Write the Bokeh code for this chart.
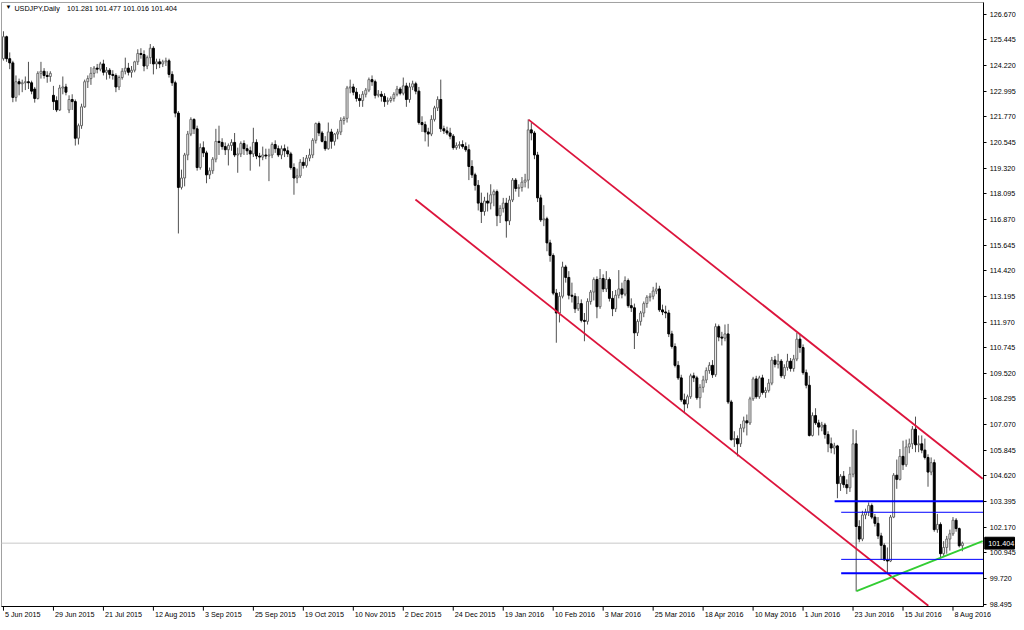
import pandas as pd
from bokeh.plotting import figure
from bokeh.models import Range1d, FixedTicker, LinearAxis, Label, NumeralTickFormatter
from bokeh.embed import file_html
from bokeh.resources import INLINE

# ---------------- data ----------------
symbol = "USDJPY,Daily"
last_ohlc = "101.281 101.477 101.016 101.404"
last_price = 101.404
first_date, last_date = "2015-06-05", "2016-08-11"
holidays = ["2015-12-25", "2016-01-01"]

opens = [
    124.55, 125.60, 124.55, 124.35, 122.70, 123.45, 123.35, 123.40, 123.45, 123.40,
    123.10, 122.65, 123.85, 123.95, 123.75, 123.70, 122.80, 122.55, 122.10, 123.15,
    123.20, 122.10, 122.60, 122.50, 120.75, 121.35, 122.25, 123.45, 123.60, 123.85,
    124.10, 124.05, 124.30, 123.90, 124.00, 123.80, 123.75, 123.20, 123.65, 123.95,
    124.10, 123.90, 124.00, 124.40, 124.80, 124.75, 124.20, 124.60, 125.05, 124.30,
    124.40, 124.30, 124.40, 124.45, 123.80, 123.40, 121.95, 118.40, 118.85, 119.95,
    120.95, 121.65, 121.20, 119.35, 120.30, 120.05, 119.00, 119.20, 119.75, 120.60,
    120.55, 120.35, 120.20, 120.40, 120.55, 119.95, 120.00, 120.50, 120.25, 120.15,
    120.00, 120.55, 119.90, 119.85, 119.95, 119.90, 119.95, 120.45, 120.25, 119.95,
    120.25, 120.15, 120.00, 119.35, 118.85, 118.95, 119.60, 119.45, 119.80, 119.95,
    120.65, 121.45, 121.00, 120.60, 120.25, 121.05, 120.60, 120.95, 121.05, 121.60,
    121.70, 123.15, 123.20, 122.95, 122.65, 122.55, 122.85, 123.05, 123.55, 123.45,
    122.80, 122.85, 122.75, 122.50, 122.55, 122.65, 122.85, 123.10, 122.90, 123.25,
    122.60, 123.20, 123.35, 123.00, 121.50, 121.40, 121.05, 120.95, 121.65, 122.20,
    122.60, 121.20, 121.10, 121.00, 120.85, 120.30, 120.40, 120.45, 120.35, 120.20,
    119.40, 119.00, 118.50, 117.65, 117.25, 117.75, 117.65, 118.05, 118.20, 117.05,
    117.40, 117.65, 116.80, 117.80, 118.75, 118.35, 118.40, 118.65, 118.75, 121.15,
    121.00, 119.95, 117.90, 116.85, 116.90, 115.75, 115.15, 113.35, 112.40, 113.20,
    114.60, 114.10, 113.25, 113.20, 112.60, 112.85, 112.05, 112.00, 112.95, 113.40,
    114.00, 112.70, 114.05, 113.55, 114.00, 113.10, 112.60, 113.25, 113.55, 113.30,
    113.95, 112.75, 112.65, 111.45, 112.00, 112.40, 112.85, 113.15, 113.20, 113.45,
    113.55, 112.55, 112.45, 112.40, 111.40, 110.80, 109.90, 109.30, 108.25, 108.05,
    108.40, 109.40, 109.30, 108.35, 108.85, 109.20, 109.65, 109.90, 109.45, 111.75,
    111.25, 111.20, 111.40, 108.15, 106.35, 106.40, 106.15, 106.90, 107.25, 107.15,
    108.30, 109.25, 108.40, 109.30, 108.60, 108.70, 109.05, 110.15, 109.95, 110.10,
    109.40, 109.80, 110.10, 109.75, 110.20, 111.15, 110.75, 109.55, 108.95, 106.55,
    107.50, 107.15, 106.95, 107.05, 106.60, 106.15, 105.95, 106.05, 104.25, 104.60,
    104.20, 104.05, 104.70, 106.15, 102.20, 101.60, 102.75, 102.90, 103.20, 102.65,
    102.35, 101.75, 101.30, 100.60, 100.55, 102.65, 104.65, 104.45, 105.55, 105.15,
    106.00, 106.15, 106.85, 106.10, 106.15, 105.85, 105.50, 104.80, 105.25, 102.05,
    102.30, 100.90, 101.20, 101.60, 101.85, 102.50, 102.10, 101.281,
]
highs = [
    125.86, 125.65, 124.85, 124.45, 123.75, 123.60, 123.55, 123.70, 124.40, 123.50,
    123.20, 123.95, 124.40, 124.10, 123.95, 123.95, 123.25, 122.75, 123.30, 123.70,
    123.35, 122.80, 122.85, 122.60, 121.45, 122.40, 123.55, 123.75, 124.15, 124.20,
    124.30, 124.40, 124.50, 124.15, 124.10, 124.00, 123.85, 123.75, 124.10, 124.60,
    124.35, 124.20, 124.45, 125.00, 125.05, 124.95, 124.70, 125.25, 125.15, 124.55,
    124.55, 124.50, 124.60, 124.55, 123.95, 123.50, 122.05, 119.25, 120.05, 121.10,
    121.75, 121.70, 121.35, 120.50, 120.60, 120.15, 119.35, 119.85, 121.20, 121.35,
    120.75, 120.55, 120.50, 120.70, 121.00, 120.30, 120.60, 120.65, 120.45, 120.35,
    121.25, 120.70, 120.05, 120.35, 120.25, 120.25, 120.55, 120.65, 120.40, 120.40,
    120.45, 120.35, 120.10, 119.55, 119.30, 119.75, 119.85, 119.95, 120.25, 120.75,
    121.50, 121.55, 121.10, 120.85, 121.50, 121.20, 121.00, 121.20, 121.75, 121.80,
    123.25, 123.55, 123.35, 123.15, 122.85, 123.00, 123.15, 123.65, 123.75, 123.55,
    123.05, 123.00, 122.90, 122.70, 122.75, 122.95, 123.25, 123.20, 123.65, 123.40,
    123.40, 123.50, 123.45, 123.20, 121.80, 121.55, 121.25, 121.85, 122.30, 122.75,
    123.55, 121.35, 121.30, 121.25, 120.95, 120.55, 120.60, 120.65, 120.55, 120.45,
    119.70, 119.10, 118.75, 118.15, 117.95, 118.15, 118.55, 118.30, 118.30, 117.55,
    117.90, 117.90, 118.00, 118.85, 118.85, 118.55, 118.90, 119.05, 121.65, 121.50,
    121.10, 120.10, 118.05, 117.55, 117.00, 115.90, 115.25, 113.55, 113.40, 114.85,
    114.70, 114.40, 113.85, 113.35, 113.20, 113.05, 112.40, 113.10, 113.50, 114.10,
    114.15, 114.50, 114.25, 114.40, 114.10, 113.45, 113.50, 114.45, 113.85, 114.15,
    114.05, 113.10, 112.85, 112.10, 112.50, 112.95, 113.25, 113.35, 113.65, 113.85,
    113.70, 112.80, 112.75, 112.55, 111.55, 110.95, 110.10, 109.45, 108.55, 108.50,
    109.50, 109.55, 109.40, 109.00, 109.40, 109.80, 110.05, 110.15, 111.90, 111.85,
    111.50, 111.85, 111.88, 108.25, 106.75, 106.55, 107.10, 107.45, 107.55, 108.40,
    109.35, 109.40, 109.40, 109.45, 108.85, 109.25, 110.30, 110.35, 110.45, 110.20,
    109.95, 110.45, 110.25, 110.40, 111.45, 111.40, 110.90, 109.70, 109.40, 107.65,
    107.85, 107.30, 107.20, 107.15, 106.75, 106.45, 106.20, 106.10, 104.70, 104.85,
    104.45, 105.05, 106.85, 106.80, 102.50, 102.95, 103.05, 103.35, 103.30, 102.80,
    102.65, 101.90, 101.40, 101.20, 102.75, 104.75, 105.40, 105.90, 106.30, 106.35,
    106.40, 107.00, 107.45, 106.55, 106.55, 106.40, 105.65, 105.50, 105.40, 102.80,
    102.40, 101.50, 101.75, 102.05, 102.65, 102.60, 102.15, 101.477,
]
lows = [
    124.46, 124.40, 124.05, 122.47, 122.50, 122.80, 122.95, 123.05, 123.10, 122.85,
    122.45, 122.60, 123.60, 123.60, 123.40, 123.45, 122.10, 122.00, 122.05, 122.85,
    122.80, 121.95, 122.10, 120.40, 120.45, 121.20, 122.20, 123.15, 123.30, 123.65,
    123.85, 123.95, 123.75, 123.55, 123.60, 123.55, 122.95, 123.05, 123.55, 123.80,
    123.75, 123.65, 123.90, 124.25, 124.55, 123.95, 124.05, 124.30, 123.80, 124.05,
    124.10, 124.15, 124.20, 123.65, 123.25, 121.75, 116.20, 118.30, 118.45, 119.70,
    120.85, 120.95, 119.20, 119.25, 119.85, 118.60, 118.80, 119.05, 119.60, 119.95,
    120.20, 119.95, 119.45, 120.15, 119.85, 119.10, 119.85, 119.95, 119.95, 119.20,
    119.85, 119.75, 119.40, 119.70, 119.75, 118.70, 119.80, 120.05, 119.85, 119.75,
    119.85, 119.85, 119.25, 118.05, 118.60, 118.85, 119.30, 119.35, 119.65, 119.80,
    120.50, 120.85, 120.55, 120.15, 120.20, 120.25, 120.40, 120.70, 120.90, 121.40,
    121.50, 122.90, 122.80, 122.50, 122.25, 122.25, 122.70, 122.95, 123.25, 122.65,
    122.70, 122.50, 122.25, 122.35, 122.45, 122.50, 122.75, 122.80, 122.80, 122.25,
    122.45, 123.05, 122.85, 121.40, 121.05, 120.60, 120.35, 120.85, 121.55, 122.05,
    121.05, 120.95, 120.90, 120.70, 120.20, 120.20, 120.25, 120.25, 120.10, 118.75,
    118.85, 118.25, 117.30, 116.70, 117.05, 117.25, 117.35, 117.50, 116.55, 116.70,
    117.20, 116.00, 116.60, 117.70, 118.20, 117.95, 118.20, 118.40, 118.35, 120.65,
    119.75, 117.70, 116.75, 116.55, 115.35, 114.85, 113.25, 110.98, 111.95, 113.10,
    113.85, 113.05, 112.90, 112.40, 112.50, 111.95, 111.05, 111.85, 112.80, 113.00,
    112.15, 112.60, 113.40, 113.40, 112.95, 112.25, 112.45, 113.10, 113.10, 113.20,
    112.65, 112.45, 110.68, 111.30, 111.80, 112.20, 112.65, 112.95, 113.05, 113.30,
    112.45, 112.30, 112.15, 111.25, 110.70, 109.80, 109.20, 108.15, 107.65, 107.85,
    108.30, 109.10, 108.25, 107.85, 108.60, 109.05, 109.50, 109.30, 109.35, 111.05,
    110.85, 111.05, 108.05, 106.30, 106.00, 105.55, 106.00, 106.70, 106.55, 107.05,
    108.20, 108.30, 108.30, 108.50, 108.35, 108.60, 108.95, 109.80, 109.75, 109.30,
    109.25, 109.65, 109.60, 109.60, 110.10, 110.50, 109.45, 108.80, 106.50, 106.50,
    107.05, 106.55, 106.75, 106.40, 105.75, 105.70, 105.65, 103.55, 103.90, 104.05,
    103.75, 103.85, 104.55, 99.10, 101.45, 101.50, 102.55, 102.70, 102.55, 102.20,
    101.60, 100.60, 100.55, 99.97, 100.50, 102.60, 104.00, 104.40, 104.90, 105.05,
    105.70, 105.90, 105.75, 105.75, 105.70, 105.40, 104.10, 104.65, 101.95, 101.90,
    100.68, 100.80, 100.90, 101.05, 101.75, 101.95, 101.20, 101.016,
]
closes = [
    125.60, 124.55, 124.35, 122.70, 123.45, 123.35, 123.40, 123.45, 123.40, 123.00,
    122.65, 123.85, 123.95, 123.75, 123.70, 123.85, 122.50, 122.10, 123.15, 123.20,
    122.95, 122.60, 122.50, 120.75, 121.35, 122.25, 123.45, 123.60, 123.85, 124.10,
    124.05, 124.30, 123.90, 124.00, 123.80, 123.75, 123.20, 123.65, 123.95, 124.10,
    123.90, 124.00, 124.40, 124.80, 124.75, 124.20, 124.60, 125.05, 124.30, 124.40,
    124.30, 124.40, 124.45, 123.80, 123.40, 121.95, 118.40, 118.85, 119.95, 120.95,
    121.65, 121.20, 119.35, 120.30, 120.05, 119.00, 119.20, 119.75, 120.60, 120.55,
    120.35, 120.20, 120.40, 120.55, 119.95, 120.00, 120.50, 120.25, 120.15, 120.00,
    120.55, 119.90, 119.85, 119.95, 119.90, 119.95, 120.45, 120.25, 119.95, 120.25,
    120.15, 120.00, 119.35, 118.85, 118.95, 119.60, 119.45, 119.80, 119.95, 120.65,
    121.45, 121.00, 120.60, 120.25, 121.05, 120.60, 120.95, 121.05, 121.60, 121.70,
    123.15, 123.20, 122.95, 122.65, 122.55, 122.85, 123.05, 123.55, 123.45, 122.80,
    122.85, 122.75, 122.50, 122.55, 122.65, 122.85, 123.10, 122.90, 123.25, 122.60,
    123.20, 123.35, 123.00, 121.50, 121.40, 121.05, 120.95, 121.65, 122.20, 122.60,
    121.20, 121.10, 121.00, 120.85, 120.30, 120.40, 120.45, 120.35, 120.20, 119.40,
    119.00, 118.50, 117.65, 117.25, 117.75, 117.65, 118.05, 118.20, 117.05, 117.40,
    117.65, 116.80, 117.80, 118.75, 118.35, 118.40, 118.65, 118.75, 121.15, 121.00,
    119.95, 117.90, 116.85, 116.90, 115.75, 115.15, 113.35, 112.40, 113.20, 114.60,
    114.10, 113.25, 113.20, 112.60, 112.85, 112.05, 112.00, 112.95, 113.40, 114.00,
    112.70, 114.05, 113.55, 114.00, 113.10, 112.60, 113.25, 113.55, 113.30, 113.95,
    112.75, 112.65, 111.45, 112.00, 112.40, 112.85, 113.15, 113.20, 113.45, 113.55,
    112.55, 112.45, 112.40, 111.40, 110.80, 109.90, 109.30, 108.25, 108.05, 108.40,
    109.40, 109.30, 108.35, 108.85, 109.20, 109.65, 109.90, 109.45, 111.75, 111.25,
    111.20, 111.40, 108.15, 106.35, 106.40, 106.15, 106.90, 107.25, 107.15, 108.30,
    109.25, 108.40, 109.30, 108.60, 108.70, 109.05, 110.15, 109.95, 110.10, 109.40,
    109.80, 110.10, 109.75, 110.20, 111.15, 110.75, 109.55, 108.95, 106.55, 107.50,
    107.15, 106.95, 107.05, 106.60, 106.15, 105.95, 106.05, 104.25, 104.60, 104.20,
    104.05, 104.70, 106.15, 102.20, 101.60, 102.75, 102.90, 103.20, 102.65, 102.35,
    101.75, 101.30, 100.60, 100.55, 102.65, 104.65, 104.45, 105.55, 105.15, 106.00,
    106.15, 106.85, 106.10, 106.15, 105.85, 105.50, 104.80, 105.25, 102.05, 102.30,
    100.90, 101.20, 101.60, 101.85, 102.50, 102.10, 101.28, 101.404,
]

date_tick_labels = [
    "5 Jun 2015", "29 Jun 2015", "21 Jul 2015", "12 Aug 2015", "3 Sep 2015",
    "25 Sep 2015", "19 Oct 2015", "10 Nov 2015", "2 Dec 2015", "24 Dec 2015",
    "19 Jan 2016", "10 Feb 2016", "3 Mar 2016", "25 Mar 2016", "18 Apr 2016",
    "10 May 2016", "1 Jun 2016", "23 Jun 2016", "15 Jul 2016", "8 Aug 2016",
]
price_ticks = [
    126.670, 125.445, 124.220, 122.995, 121.770, 120.545, 119.320, 118.095,
    116.870, 115.645, 114.420, 113.195, 111.970, 110.745, 109.520, 108.295,
    107.070, 105.845, 104.620, 103.395, 102.170, 100.945, 99.720, 98.495,
]

# drawn objects (bar index, price)
upper_channel_idx = [168.1, 313.5]
upper_channel_price = [121.64, 104.48]
lower_channel_idx = [131.9, 296.1]
lower_channel_price = [117.82, 98.41]
support_idx = [273.1, 313.5]
support_price = [99.11, 101.50]
level_price = [103.41, 102.88, 100.63, 99.97]
level_start_idx = [266.1, 268.2, 268.2, 268.2]
level_thick = [True, False, False, True]

# ---------------- layout / style ----------------
FONT = "Liberation Sans"
FSPX = 7.2
FS = f"{FSPX}px"
W, H = 1016, 622
REF_W, REF_H = 1024, 630
BAR_PX, BAR_X0 = 3.148, 3.0        # reference: pixel spacing of bars, x of bar 0
PX_PER_PRICE, Y_REF_PRICE, Y_REF_PX = 21.2, 126.670, 14.0


def ix(xpx):      # reference pixel -> bar-index coordinate
    return (xpx - BAR_X0) / BAR_PX


def py(ypx):      # reference pixel -> price coordinate
    return Y_REF_PRICE - (ypx - Y_REF_PX) / PX_PER_PRICE


X0, X1 = ix(0), ix(REF_W)
Y0, Y1 = py(REF_H), py(0)
X_AX = ix(991)          # price axis line
Y_AX = py(614)          # time axis line
X_LEFT, Y_TOP = ix(1), py(2)
PPX = W / (X1 - X0)     # screen px per bar

dates = [d for d in pd.bdate_range(first_date, last_date)
         if d not in set(pd.to_datetime(holidays))]
dindex = pd.DatetimeIndex(dates)
tick_idx = [int(dindex.searchsorted(pd.Timestamp(s))) for s in date_tick_labels]

n = len(closes)
xs = list(range(n))

p = figure(width=W, height=H, output_backend="svg", toolbar_location=None,
           x_range=Range1d(X0, X1), y_range=Range1d(Y0, Y1),
           x_axis_location=None, y_axis_location=None,
           min_border_left=0, min_border_right=0, min_border_top=0,
           min_border_bottom=0, background_fill_color="white",
           border_fill_color="white")
p.grid.visible = False
p.outline_line_color = None

# chart border (top and left, grey)
p.segment(x0=[X_LEFT, X_LEFT], y0=[Y_TOP, Y_TOP], x1=[X_AX, X_LEFT], y1=[Y_TOP, Y_AX],
          line_color="#a0a0a0", line_width=1)

# price axis (right), fixed at the chart's right edge
yaxis = LinearAxis(ticker=FixedTicker(ticks=price_ticks),
                   formatter=NumeralTickFormatter(format="0.000"),
                   fixed_location=X_AX, bounds=(Y_AX, Y_TOP),
                   axis_line_color="black", major_tick_line_color="black",
                   major_tick_out=3, major_tick_in=0,
                   minor_tick_out=0, minor_tick_in=0, major_label_standoff=3,
                   major_label_text_font=FONT, major_label_text_font_size=FS,
                   major_label_text_color="black")
p.add_layout(yaxis, "right")

# time axis (below): labels left-aligned right of each tick mark
CW = {" ": 0.278, "J": 0.5, "u": 0.556, "n": 0.556, "l": 0.222, "A": 0.667,
      "g": 0.556, "S": 0.667, "e": 0.556, "p": 0.556, "O": 0.778, "c": 0.5,
      "t": 0.278, "N": 0.722, "o": 0.556, "v": 0.5, "D": 0.722, "F": 0.611,
      "b": 0.556, "M": 0.833, "a": 0.556, "r": 0.333, "y": 0.5}


def text_px(s):
    return sum(CW.get(ch, 0.556) for ch in s) * FSPX


label_pos = [round(t + (1.5 + text_px(s) / 2) / PPX, 3) + 0.0004
             for t, s in zip(tick_idx, date_tick_labels)]
xaxis = LinearAxis(ticker=FixedTicker(ticks=label_pos),
                   major_label_overrides={pos: s for pos, s in zip(label_pos, date_tick_labels)},
                   fixed_location=Y_AX, bounds=(X_LEFT, X_AX),
                   axis_line_color="black", major_tick_out=0, major_tick_in=0,
                   minor_tick_out=0, minor_tick_in=0, major_label_standoff=3,
                   major_label_text_font=FONT, major_label_text_font_size=FS,
                   major_label_text_color="black")
p.add_layout(xaxis, "below")
tick_len = 4 / PX_PER_PRICE
p.segment(x0=tick_idx, y0=[Y_AX] * len(tick_idx), x1=tick_idx,
          y1=[Y_AX - tick_len] * len(tick_idx), line_color="black", line_width=1)

# bid line
p.segment(x0=[X_LEFT], y0=[last_price], x1=[X_AX], y1=[last_price],
          line_color="#c8c8c8", line_width=1)

# candles
p.segment(x0=xs, y0=lows, x1=xs, y1=highs, line_color="#505050", line_width=1)
bull = [i for i in xs if closes[i] >= opens[i]]
bear = [i for i in xs if closes[i] < opens[i]]
p.vbar(x=bull, width=0.62,
       top=[closes[i] for i in bull], bottom=[opens[i] for i in bull],
       fill_color="white", line_color="#666666", line_width=1)
p.vbar(x=bear, width=0.62,
       top=[opens[i] for i in bear], bottom=[closes[i] for i in bear],
       fill_color="black", line_color="black", line_width=1)

# trend lines
p.line(upper_channel_idx, upper_channel_price, line_color="#dc143c", line_width=1.8)
p.line(lower_channel_idx, lower_channel_price, line_color="#dc143c", line_width=1.8)
p.line(support_idx, support_price, line_color="#32cd32", line_width=1.8)
p.segment(x0=level_start_idx, y0=level_price, x1=[X_AX] * len(level_price), y1=level_price,
          line_color="#0000ff", line_width=[2 if t else 1 for t in level_thick])

# current price tag on the price axis
tag_h = 12 / PX_PER_PRICE
p.rect(x=[(ix(992) + ix(1022)) / 2], y=[last_price], width=ix(1022) - ix(992),
       height=tag_h, fill_color="black", line_color="black", level="overlay")
p.text(x=[ix(995.5)], y=[last_price], text=[f"{last_price:.3f}"],
       text_align="left", text_baseline="middle", text_color="white",
       text_font={"value": FONT}, text_font_size={"value": FS}, level="overlay")

# title text (top-left)
ty = py(4)
p.add_layout(Label(x=ix(5), y=ty, text="\u25bc", text_baseline="top",
                   text_font=FONT, text_font_size="6px", text_color="black"))
p.add_layout(Label(x=ix(14), y=ty, text=symbol, text_baseline="top",
                   text_font=FONT, text_font_size=FS, text_color="black"))
p.add_layout(Label(x=ix(67), y=ty, text=last_ohlc, text_baseline="top",
                   text_font=FONT, text_font_size=FS, text_color="black"))

open("out.html", "w").write(file_html(p, INLINE))
